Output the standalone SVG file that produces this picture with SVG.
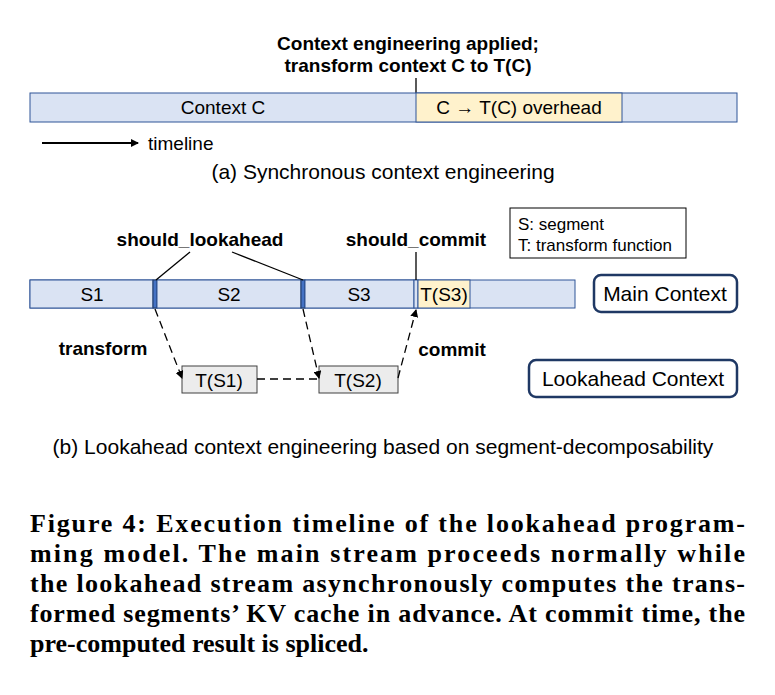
<svg xmlns="http://www.w3.org/2000/svg" width="775" height="695" viewBox="0 0 775 695">
<style>
.t{font-family:"Liberation Sans",Arial,sans-serif;font-size:19px;fill:#000}
.b{font-weight:bold}
.bar{fill:#dae3f3;stroke:#2f5597;stroke-width:1}
.ov{fill:#fff2cc;stroke:#2f5597;stroke-width:1}
.mk{fill:#4472c4;stroke:#1f3864;stroke-width:1}
.ts{fill:#ececec;stroke:#404040;stroke-width:1}
.lab{fill:#fff;stroke:#1f3864;stroke-width:2.5}
.sub{font-size:21px}
.cap{font-family:"Liberation Serif","Times New Roman",serif;font-size:26px;font-weight:bold;fill:#000}
.d{stroke:#000;stroke-width:1.3;fill:none;stroke-dasharray:8,5}
</style>
<defs><marker id="ah" markerWidth="8" markerHeight="8" refX="7" refY="4" orient="auto" markerUnits="userSpaceOnUse"><path d="M0,0 L8,4 L0,8 z" fill="#000"/></marker></defs>
<rect width="775" height="695" fill="#fff"/>
<g id="partA">
<text class="t b" x="408" y="50" text-anchor="middle">Context engineering applied;</text>
<text class="t b" x="408" y="72" text-anchor="middle">transform context C to T(C)</text>
<line x1="416" y1="78" x2="416" y2="93" stroke="#000" stroke-width="1.3"/>
<rect class="bar" x="30" y="93" width="707" height="29"/>
<rect class="ov" x="416" y="93" width="206" height="29"/>
<text class="t" x="223" y="114" text-anchor="middle">Context C</text>
<text class="t" x="519" y="114" text-anchor="middle">C → T(C) overhead</text>
<line x1="42" y1="143" x2="138" y2="143" stroke="#000" stroke-width="2" marker-end="url(#ah)"/>
<text class="t" x="148" y="150">timeline</text>
<text class="t sub" x="383" y="179" text-anchor="middle">(a) Synchronous context engineering</text>
</g>
<g id="legend"><rect x="510" y="208" width="176" height="50" fill="#fff" stroke="#000"/>
<text class="t" x="518" y="230" style="font-size:17px">S: segment</text>
<text class="t" x="518" y="251" style="font-size:17px">T: transform function</text></g>
<g id="main">
<rect class="bar" x="30" y="280" width="545" height="28"/>
<rect class="bar" x="30" y="280" width="123" height="28"/>
<rect class="mk" x="153" y="280" width="4" height="28"/>
<rect class="bar" x="157" y="280" width="144" height="28"/>
<rect class="mk" x="301" y="280" width="4" height="28"/>
<rect class="bar" x="305" y="280" width="109" height="28"/>
<rect class="bar" x="414" y="280" width="4" height="28"/>
<rect class="ov" x="418" y="280" width="52" height="28"/>
<text class="t" x="92" y="301" text-anchor="middle">S1</text>
<text class="t" x="229" y="301" text-anchor="middle">S2</text>
<text class="t" x="359" y="301" text-anchor="middle">S3</text>
<text class="t" x="444" y="301" text-anchor="middle">T(S3)</text>
</g>
<g id="mainLabel"><rect class="lab" x="594" y="275" width="143" height="37" rx="7"/><text class="t" x="665" y="301" text-anchor="middle" style="font-size:21px">Main Context</text></g>
<g id="lookLabel"><rect class="lab" x="529" y="360" width="208" height="37" rx="7"/><text class="t" x="633" y="386" text-anchor="middle" style="font-size:21px">Lookahead Context</text></g>
<g id="ts1"><rect class="ts" x="182" y="366" width="75" height="27"/><text class="t" x="219" y="387" text-anchor="middle">T(S1)</text></g>
<g id="ts2"><rect class="ts" x="319" y="366" width="79" height="27"/><text class="t" x="358" y="387" text-anchor="middle">T(S2)</text></g>
<g id="labels">
<text class="t b" x="200" y="246" text-anchor="middle">should_lookahead</text>
<text class="t b" x="416" y="246" text-anchor="middle">should_commit</text>
<text class="t b" x="103" y="355" text-anchor="middle">transform</text>
<text class="t b" x="452" y="356" text-anchor="middle">commit</text>
</g>
<g id="connectors">
<line x1="190" y1="252" x2="156" y2="280" stroke="#000" stroke-width="1.3"/>
<line x1="232" y1="252" x2="303" y2="280" stroke="#000" stroke-width="1.3"/>
<line x1="416" y1="252" x2="416" y2="280" stroke="#000" stroke-width="1.3"/>
<line class="d" x1="155" y1="309" x2="182" y2="378" marker-end="url(#ah)"/>
<line class="d" x1="303" y1="309" x2="319" y2="378" marker-end="url(#ah)"/>
<line class="d" x1="257" y1="379" x2="319" y2="379"/>
<line class="d" x1="398" y1="378" x2="416" y2="310" marker-end="url(#ah)"/>
</g>
<text class="t sub" x="383" y="454" text-anchor="middle">(b) Lookahead context engineering based on segment-decomposability</text>
<g id="caption">
<text class="cap" x="30" y="532" textLength="715" lengthAdjust="spacing">Figure 4: Execution timeline of the lookahead program-</text>
<text class="cap" x="30" y="562" textLength="715" lengthAdjust="spacing">ming model. The main stream proceeds normally while</text>
<text class="cap" x="30" y="592" textLength="715" lengthAdjust="spacing">the lookahead stream asynchronously computes the trans-</text>
<text class="cap" x="30" y="622" textLength="715" lengthAdjust="spacing">formed segments’ KV cache in advance. At commit time, the</text>
<text class="cap" x="30" y="652">pre-computed result is spliced.</text>
</g>
</svg>
